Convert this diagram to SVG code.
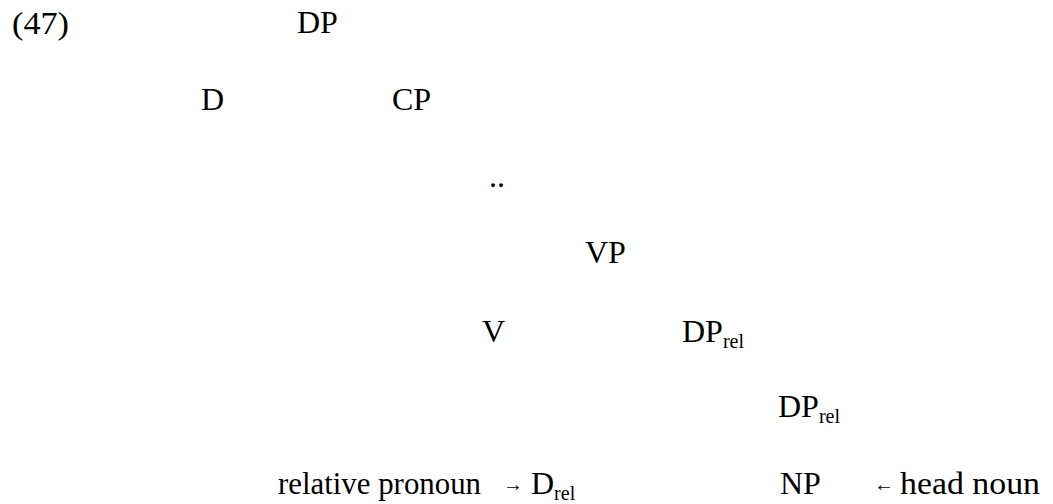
<svg xmlns="http://www.w3.org/2000/svg" width="1053" height="504" viewBox="0 0 1053 504">
  <style>
    text { font-family: "Liberation Serif", "Times New Roman", serif; font-size: 32px; fill: #000; }
    .sub { font-size: 20px; }
    .arr { font-size: 20px; }
  </style>
  <rect width="1053" height="504" fill="#fff"/>

  <!-- example number -->
  <g id="label-47">
    <text x="12" y="34" textLength="57" lengthAdjust="spacingAndGlyphs">(47)</text>
  </g>

  <!-- tree nodes (no branch lines drawn) -->
  <g id="node-DP">
    <text x="297" y="33">DP</text>
  </g>
  <g id="node-D">
    <text x="201" y="110">D</text>
  </g>
  <g id="node-CP">
    <text x="392" y="110">CP</text>
  </g>
  <g id="node-dots">
    <text x="489" y="187">..</text>
  </g>
  <g id="node-VP">
    <text x="585" y="263">VP</text>
  </g>
  <g id="node-V">
    <text x="482" y="342">V</text>
  </g>
  <g id="node-DPrel-1">
    <text x="682" y="342">DP<tspan class="sub" dy="6">rel</tspan></text>
  </g>
  <g id="node-DPrel-2">
    <text x="778" y="417">DP<tspan class="sub" dy="6">rel</tspan></text>
  </g>
  <g id="node-Drel">
    <text x="531" y="494">D<tspan class="sub" dy="6">rel</tspan></text>
  </g>
  <g id="node-NP">
    <text x="780" y="494">NP</text>
  </g>

  <!-- annotations -->
  <g id="note-relative-pronoun">
    <text x="278" y="494" textLength="203" lengthAdjust="spacingAndGlyphs">relative pronoun</text>
    <text class="arr" x="503" y="491">→</text>
  </g>
  <g id="note-head-noun">
    <text class="arr" x="874" y="491">←</text>
    <text x="900" y="494" textLength="140" lengthAdjust="spacingAndGlyphs">head noun</text>
  </g>
</svg>
